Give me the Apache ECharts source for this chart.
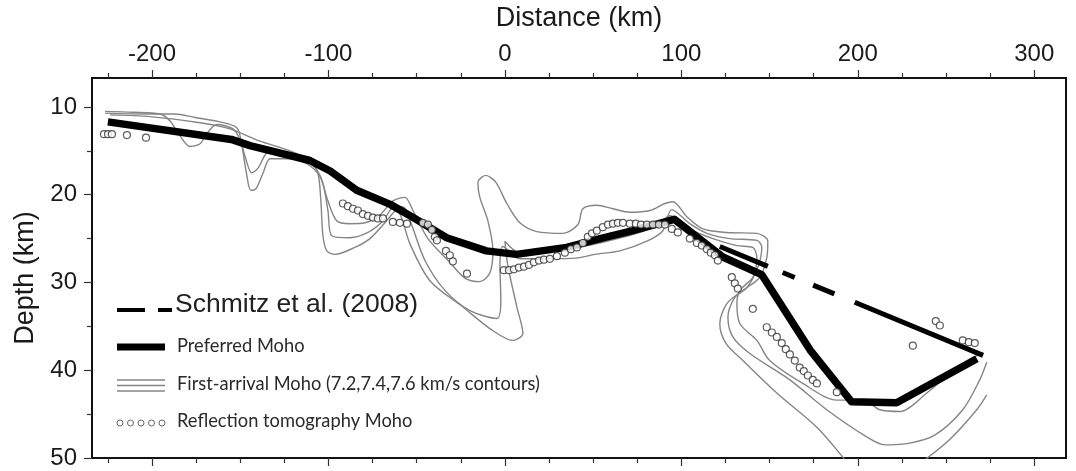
<!DOCTYPE html>
<html>
<head>
<meta charset="utf-8">
<script src="https://cdn.jsdelivr.net/npm/echarts@6/dist/echarts.min.js"></script>
<style>
  html, body { margin: 0; padding: 0; background: #fff; }
  #chart { width: 1076px; height: 471px; }
</style>
</head>
<body>
<div id="chart"></div>
<script>
// Axis ticks (km)
const xTicks = [-200, -100, 0, 100, 200, 300];
const xMinorTicks = [-225, -175, -150, -125, -75, -50, -25, 25, 50, 75, 125, 150, 175, 225, 250, 275];
const yTicks = [10, 20, 30, 40, 50];
const yMinorTicks = [15, 25, 35, 45];

// Preferred Moho: distance (km) and depth (km)
const mohoKm    = [-225, -155, -144.5, -110.5, -99, -84, -65, -52, -33, -10.5, 6.5, 35, 54, 72.5, 96, 123.5, 145.5, 173, 196.5, 222, 267.5];
const mohoDepth = [11.7, 13.7, 14.4, 16.1, 17.3, 19.5, 21.1, 22.6, 24.9, 26.4, 26.8, 26.0, 25.0, 24.1, 22.8, 27.1, 29.1, 37.7, 43.6, 43.7, 38.7];

// Schmitz et al. (2008) Moho
const schmitzKm    = [121.8, 271.0];
const schmitzDepth = [25.9, 38.3];

// First-arrival Moho velocity contours, [distance, depth]
const contourOuter = [
  [-226.6,10.5],[-210.8,10.6],[-195.5,10.8],[-189.8,11.6],[-184.1,13.3],[-178.5,14.5],[-172.8,14.2],[-168.8,13.0],
  [-163.2,12.0],[-154.1,12.5],[-150.0,13.8],[-147.0,15.8],[-143.5,17.5],[-140.0,17.0],[-136.0,15.5],[-132.0,14.8],[-121.8,15.4],
  [-110.5,16.4],[-104.8,17.8],[-100.3,20.7],[-95.2,23.0],[-87.8,23.3],[-79.3,23.2],[-70.8,22.3],[-63.5,20.7],
  [-56.7,20.3],[-52.1,21.8],[-43.6,25.0],[-31.2,27.7],[-22.7,29.5],[-14.2,29.9],[-8.5,28.9],[-6.8,26.4],
  [-9.6,23.0],[-14.2,20.3],[-15.3,18.6],[-10.8,17.8],[-5.1,18.6],[1.1,21.0],[8.5,23.2],[18.1,24.2],
  [32.9,24.4],[41.4,23.4],[44.2,21.6],[52.1,21.2],[61.2,21.6],[70.8,22.0],[82.2,21.8],[90.7,21.0],
  [95.2,20.8],[103.1,22.5],[112.2,23.9],[125.8,24.3],[142.8,24.4],[149.0,25.3],[148.4,27.2],[144.5,29.4],
  [134.9,30.9],[125.8,32.4],[121.8,34.7],[125.2,36.9],[134.9,38.9],[154.1,42.6],[176.8,46.5],[191.5,49.9],[193.2,50.4]
];
const contourOuterEnd = [[236.8,50.4],[252.1,47.9],[267.4,44.5],[273.1,42.8]];
const contourMiddle = [
  [-226.6,10.7],[-202.8,10.8],[-187.0,10.8],[-175.6,11.2],[-161.5,11.7],[-151.8,12.4],[-149.0,14.5],[-146.5,17.5],
  [-144.0,19.5],[-141.0,19.3],[-137.0,17.5],[-133.0,15.9],[-121.8,15.9],[-110.5,16.7],[-103.7,18.4],[-100.3,21.8],[-98.0,24.7],
  [-87.8,24.9],[-77.6,24.3],[-69.1,23.0],[-62.3,21.3],[-56.7,21.5],[-52.7,23.5],[-45.3,27.5],[-34.0,30.9],
  [-19.8,33.2],[-4.5,34.1],[-2.3,32.0],[-2.8,28.1],[-1.1,25.9],[8.5,27.3],[22.7,27.3],[41.4,27.2],
  [51.0,26.8],[65.2,26.4],[80.5,25.3],[89.5,24.1],[94.6,21.7],[104.8,23.3],[114.5,24.4],[127.5,25.0],
  [142.8,25.2],[145.6,26.0],[143.3,28.3],[137.1,30.6],[130.3,31.7],[126.4,34.0],[129.2,36.2],[138.8,38.1],
  [161.5,41.1],[182.4,44.5],[205.1,47.6],[215.3,48.5],[229.5,48.3],[243.6,47.4],[259.5,44.5],[269.1,41.1],[273.1,39.1]
];
const contourInner = [
  [-223.8,10.9],[-201.1,11.1],[-172.8,11.8],[-155.8,12.5],[-138.8,13.9],[-121.8,15.0],[-110.5,16.1],[-106.0,17.5],
  [-104.3,20.7],[-103.1,24.7],[-100.9,26.4],[-96.3,26.8],[-85.0,26.0],[-76.5,25.0],[-68.0,23.2],[-61.2,21.8],
  [-58.4,22.7],[-53.8,25.6],[-42.5,29.8],[-23.8,32.8],[-6.8,35.5],[4.5,36.6],[10.2,35.8],[6.8,32.8],
  [1.7,28.1],[0,25.3],[8.5,26.6],[31.2,26.4],[53.8,25.5],[76.5,24.3],[87.8,23.2],[93.5,22.4],
  [106.5,24.1],[117.9,25.0],[131.5,25.8],[140.5,26.0],[142.8,27.2],[140.5,29.4],[133.2,30.9],[131.5,32.4],
  [133.2,34.7],[142.8,36.6],[150.1,38.9],[168.8,41.5],[188.1,43.4],[202.8,43.4],[212.5,44.5],[223.8,44.7],
  [239.1,42.6],[256.1,39.7],[265.2,38.6],[270.8,38.0]
];

// Reflection tomography Moho picks, [distance, depth]
const reflectionPicks = [
  [-227.2,13.1],[-224.9,13.1],[-222.7,13.1],[-214.2,13.2],[-203.4,13.5],
  [-91.8,21.0],[-89.0,21.3],[-86.1,21.6],[-83.3,21.8],[-80.5,22.2],[-77.6,22.4],[-74.8,22.6],[-72.0,22.7],
  [-69.1,22.7],[-63.5,23.1],[-59.5,23.2],[-55.5,23.3],[-46.5,23.2],[-43.6,23.4],[-41.4,24.0],[-39.7,24.8],
  [-38.5,25.2],[-33.4,26.4],[-31.2,26.9],[-29.5,27.6],[-21.5,29.0],
  [-0.6,28.6],[2.3,28.6],[5.1,28.5],[7.9,28.3],[10.8,28.2],[13.6,28.0],[16.4,27.7],[19.3,27.5],
  [22.1,27.4],[25.5,27.3],[29.5,27.0],[34.0,26.6],[37.4,26.2],[40.8,26.0],[44.2,25.5],[47.0,24.8],
  [49.3,24.4],[52.1,24.1],[55.5,23.7],[58.4,23.4],[61.2,23.3],[64.0,23.2],[66.9,23.2],[70.8,23.3],
  [74.2,23.3],[77.1,23.4],[80.5,23.4],[83.9,23.4],[87.3,23.4],[90.7,23.4],[94.6,23.9],[98.0,24.3],
  [104.8,25.0],[108.8,25.5],[111.6,25.8],[114.5,26.2],[116.7,26.6],[119.0,26.9],[120.7,27.5],
  [128.6,29.4],[130.3,30.1],[132.0,30.7],[140.5,33.0],[148.4,35.1],[151.3,35.7],[154.1,36.2],
  [156.9,36.9],[159.2,37.6],[161.5,38.2],[164.3,38.9],[167.1,39.7],[169.4,40.1],[171.7,40.6],
  [174.5,41.1],[176.8,41.5],[188.1,42.5],[231.2,37.2],[244.2,34.4],[246.5,34.9],[259.5,36.6],
  [262.9,36.8],[266.3,36.9]
];

const X_MIN = -234, X_MAX = 318, Y_MIN = 6.7, Y_MAX = 50;
const AXIS_FONT = '"Liberation Sans", Arial, Helvetica, sans-serif';
const NOTE_FONT = 'Lato, "Open Sans", sans-serif';
const INK = '#111';
const CONTOUR = '#858585';

function xAxisFor(position, ticks, len, showLine, labels) {
  return {
    type: 'value', position: position, min: X_MIN, max: X_MAX,
    axisLine: { show: showLine, onZero: false, lineStyle: { color: INK, width: 2 } },
    axisTick: { show: true, inside: false, length: len, customValues: ticks, lineStyle: { color: '#333', width: 1.2 } },
    axisLabel: labels ? { show: true, customValues: ticks, margin: 12, fontSize: 24, color: '#1a1a1a', fontFamily: AXIS_FONT } : { show: false },
    splitLine: { show: false }
  };
}

function yAxisFor(ticks, len, showLine) {
  return {
    type: 'value', position: 'left', inverse: true, min: Y_MIN, max: Y_MAX,
    axisLine: { show: showLine, onZero: false, lineStyle: { color: INK, width: 2 } },
    axisTick: { show: true, length: len, customValues: ticks, lineStyle: { color: '#333', width: 1.2 } },
    axisLabel: { show: false },
    splitLine: { show: false }
  };
}

const contourSeries = [contourOuter, contourOuterEnd, contourMiddle, contourInner].map(function (pts) {
  return {
    type: 'line', data: pts, xAxisIndex: 0, yAxisIndex: 0, symbol: 'none', smooth: 0.3,
    lineStyle: { color: CONTOUR, width: 1.4 }, z: 2, silent: true
  };
});

const chart = echarts.init(document.getElementById('chart'), null, { renderer: 'canvas' });
chart.setOption({
  animation: false,
  backgroundColor: '#fff',
  grid: { left: 92, right: 10, top: 77, bottom: 13, show: true, borderColor: INK, borderWidth: 2, backgroundColor: 'transparent' },
  xAxis: [
    Object.assign(xAxisFor('top', xTicks, 8, true, true), {
      name: 'Distance (km)', nameLocation: 'middle', nameGap: 46,
      nameTextStyle: { fontSize: 27, color: '#1a1a1a', fontFamily: AXIS_FONT }
    }),
    xAxisFor('top', xMinorTicks, 5, false, false),
    xAxisFor('bottom', xTicks, 8, true, false),
    xAxisFor('bottom', xMinorTicks, 5, false, false)
  ],
  yAxis: [
    Object.assign(yAxisFor(yTicks, 8, true), {
      name: 'Depth (km)', nameLocation: 'middle', nameGap: 52,
      nameTextStyle: { fontSize: 27, color: '#1a1a1a', fontFamily: AXIS_FONT, padding: [0, 20, 0, 0] },
      axisLabel: { show: true, customValues: yTicks, margin: 15, fontSize: 24, color: '#1a1a1a', fontFamily: AXIS_FONT }
    }),
    yAxisFor(yMinorTicks, 5, false)
  ],
  series: contourSeries.concat([
    {
      name: 'Preferred Moho', type: 'line', symbol: 'none', z: 3,
      data: mohoKm.map(function (k, i) { return [k, mohoDepth[i]]; }),
      lineStyle: { color: '#000', width: 7.5, join: 'round', cap: 'butt' }
    },
    {
      name: 'Schmitz et al. (2008)', type: 'line', symbol: 'none', z: 4,
      data: schmitzKm.map(function (k, i) { return [k, schmitzDepth[i]]; }),
      lineStyle: { color: '#000', width: 5, type: [52, 16, 13, 20, 23, 22, 220, 10], cap: 'butt' }
    },
    {
      name: 'Reflection tomography Moho', type: 'scatter', z: 5,
      data: reflectionPicks, symbol: 'circle', symbolSize: 7,
      itemStyle: { color: '#fff', borderColor: '#333', borderWidth: 1.2 }
    }
  ]),
  graphic: [
    // legend block
    { type: 'line', shape: { x1: 117, y1: 310, x2: 145, y2: 310 }, style: { stroke: '#000', lineWidth: 4 } },
    { type: 'line', shape: { x1: 158, y1: 310, x2: 172, y2: 310 }, style: { stroke: '#000', lineWidth: 4 } },
    { type: 'text', x: 175, y: 305, style: { text: 'Schmitz et al. (2008)', fontSize: 26.5, fontFamily: AXIS_FONT, fill: '#222', verticalAlign: 'middle' } },

    { type: 'line', shape: { x1: 117, y1: 347, x2: 165, y2: 347 }, style: { stroke: '#000', lineWidth: 7 } },
    { type: 'text', x: 177, y: 346, style: { text: 'Preferred Moho', fontSize: 18.3, fontFamily: NOTE_FONT, fill: '#2a2a2a', verticalAlign: 'middle' } },

    { type: 'line', shape: { x1: 117, y1: 380, x2: 165, y2: 380 }, style: { stroke: CONTOUR, lineWidth: 1.3 } },
    { type: 'line', shape: { x1: 117, y1: 385.5, x2: 165, y2: 385.5 }, style: { stroke: CONTOUR, lineWidth: 1.3 } },
    { type: 'line', shape: { x1: 117, y1: 391, x2: 165, y2: 391 }, style: { stroke: CONTOUR, lineWidth: 1.3 } },
    { type: 'text', x: 177, y: 384, style: { text: 'First-arrival Moho (7.2,7.4,7.6 km/s contours)', fontSize: 18.3, fontFamily: NOTE_FONT, fill: '#2a2a2a', verticalAlign: 'middle' } },

    { type: 'circle', shape: { cx: 120, cy: 423, r: 3 }, style: { fill: '#fff', stroke: '#666', lineWidth: 1 } },
    { type: 'circle', shape: { cx: 130.5, cy: 423, r: 3 }, style: { fill: '#fff', stroke: '#666', lineWidth: 1 } },
    { type: 'circle', shape: { cx: 141, cy: 423, r: 3 }, style: { fill: '#fff', stroke: '#666', lineWidth: 1 } },
    { type: 'circle', shape: { cx: 151.5, cy: 423, r: 3 }, style: { fill: '#fff', stroke: '#666', lineWidth: 1 } },
    { type: 'circle', shape: { cx: 162, cy: 423, r: 3 }, style: { fill: '#fff', stroke: '#666', lineWidth: 1 } },
    { type: 'text', x: 177, y: 421, style: { text: 'Reflection tomography Moho', fontSize: 18.3, fontFamily: NOTE_FONT, fill: '#2a2a2a', verticalAlign: 'middle' } }
  ]
});
</script>
</body>
</html>
